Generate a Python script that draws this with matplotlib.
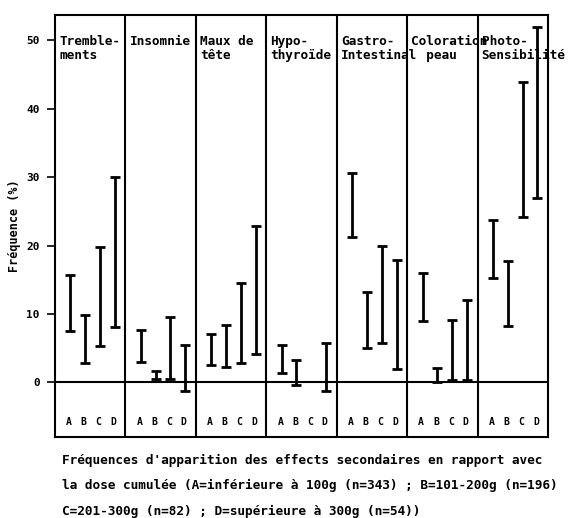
import numpy as np
import matplotlib.pyplot as plt

# effets secondaires (panneaux) et intervalles
effets = ['Tremble-\nments', 'Insomnie', 'Maux de\ntête', 'Hypo-\nthyroïde',
          'Gastro-\nIntestinal', 'Coloration\n  peau', 'Photo-\nSensibilité']
doses = ['A', 'B', 'C', 'D']

bas = [
    [7.5, 2.8, 5.4, 8.1],
    [3.0, 0.5, 0.5, -1.3],
    [2.6, 2.2, 2.8, 4.1],
    [1.4, -0.3, np.nan, -1.2],
    [21.3, 5.1, 5.7, 2.0],
    [9.0, 0.0, 0.3, 0.3],
    [15.3, 8.2, 24.2, 27.0],
]
haut = [
    [15.7, 9.8, 19.8, 30.0],
    [7.7, 1.7, 9.5, 5.5],
    [7.1, 8.4, 14.6, 22.9],
    [5.5, 3.3, np.nan, 5.8],
    [30.6, 13.2, 19.9, 17.9],
    [16.0, 2.1, 9.2, 12.0],
    [23.7, 17.7, 43.9, 52.0],
]

caption = ["Fréquences d'apparition des effects secondaires en rapport avec",
           "la dose cumulée (A=inférieure à 100g (n=343) ; B=101-200g (n=196)",
           "C=201-300g (n=82) ; D=supérieure à 300g (n=54))"]

plt.rcParams['font.family'] = ['DejaVu Sans Mono']
plt.rcParams['font.weight'] = 'bold'

fig = plt.figure(figsize=(5.78, 5.18), dpi=100)
ax = fig.add_axes([0.095, 0.156, 0.853, 0.815])

offs = np.array([0.22, 0.43, 0.64, 0.85])
bas = np.array(bas)
haut = np.array(haut)
for i in range(len(effets)):
    x = i + offs
    mid = (bas[i] + haut[i]) / 2
    err = (haut[i] - bas[i]) / 2
    ax.errorbar(x, mid, yerr=err, fmt='none', ecolor='black',
                elinewidth=2, capsize=3.5, capthick=2)
    for j, d in enumerate(doses):
        ax.text(i + offs[j] - 0.02, -5.8, d, ha='center', va='center',
                fontsize=7, fontweight='bold')
    ax.text(i + 0.06, 50.8, effets[i], ha='left', va='top', fontsize=9.2,
            fontweight='bold', linespacing=1.15)
    if i > 0:
        ax.axvline(i, color='black', lw=1.5)

ax.axhline(0, color='black', lw=1.5)
ax.set_xlim(0, len(effets))
ax.set_ylim(-8, 53.7)
ax.set_xticks([])
ax.set_yticks([0, 10, 20, 30, 40, 50])
ax.tick_params(axis='y', direction='out', length=6, width=1.2, pad=5,
               labelsize=8)
for lab in ax.get_yticklabels():
    lab.set_fontweight('bold')
for s in ax.spines.values():
    s.set_linewidth(1.5)
ax.set_ylabel('Fréquence (%)', fontsize=8.5, fontweight='bold', labelpad=4)

for k, ligne in enumerate(caption):
    fig.text(0.107, 1 - (460 + 25.5 * k) / 518, ligne, ha='left',
             va='center', fontsize=9.2, fontweight='bold')

plt.savefig('out.png', dpi=100)
